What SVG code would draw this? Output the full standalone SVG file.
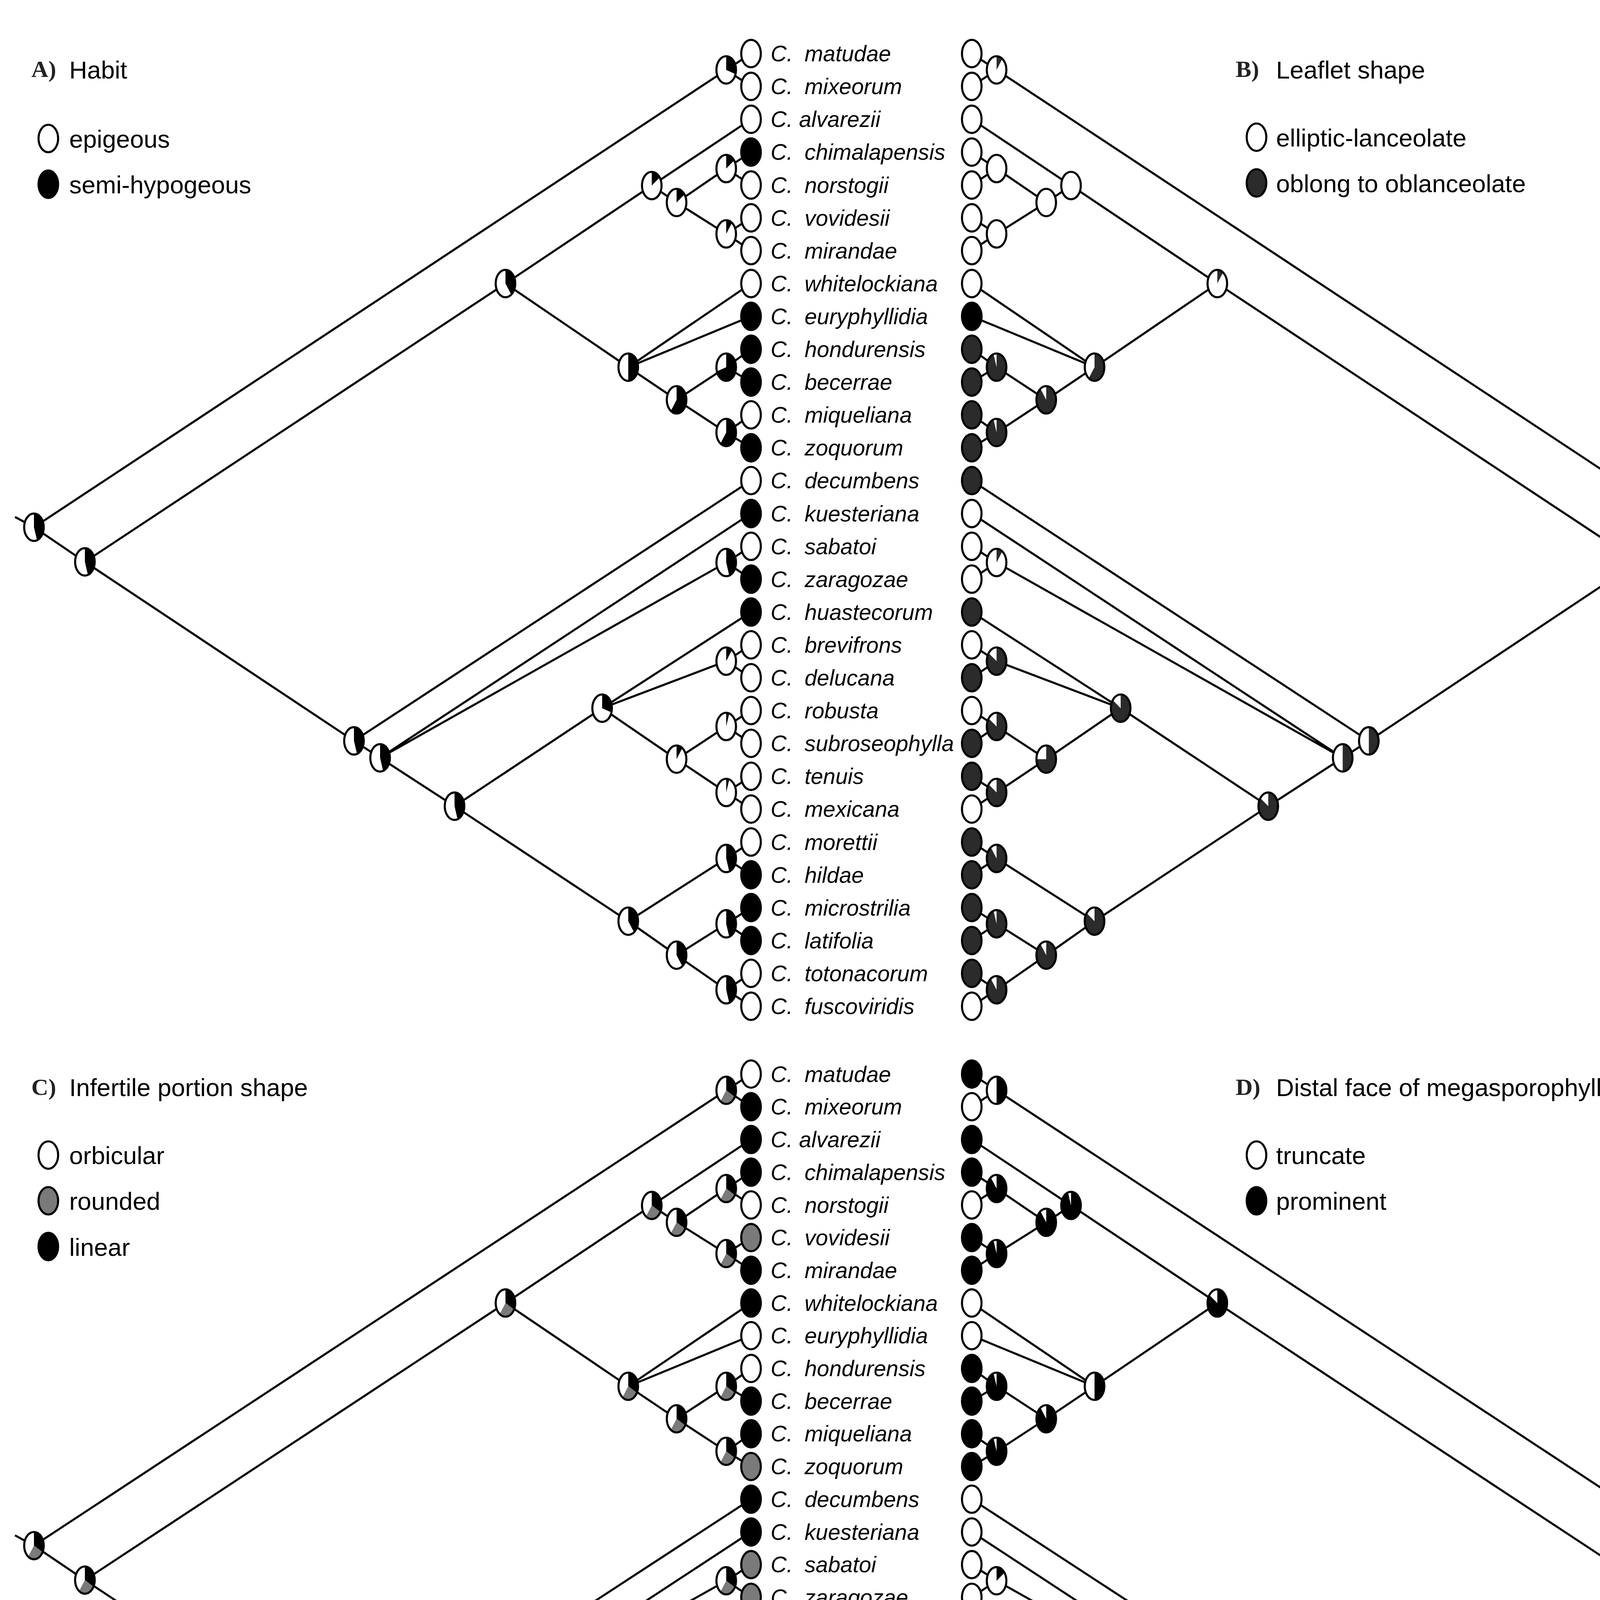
<svg xmlns="http://www.w3.org/2000/svg" xmlns:xlink="http://www.w3.org/1999/xlink" width="4427" height="5245" viewBox="0 0 4427 5245">
<style>
.w{fill:#fff}.k{fill:#000}.dk{fill:#2b2b2b}.g{fill:#7a7a7a}
.o{fill:none;stroke:#000;stroke-width:1.6}
.edge{fill:none;stroke:#000;stroke-width:1.6}
.sp{font-family:"Liberation Sans",Arial,sans-serif;font-style:italic;font-size:17px;fill:#000}
.lg{font-family:"Liberation Sans",Arial,sans-serif;font-size:19px;fill:#000}
.pl{font-family:"Liberation Serif","Times New Roman",serif;font-weight:bold;font-size:18px;fill:#222}
</style>
<defs>
<ellipse id="el" rx="7.5" ry="10.5"/>
<g id="tw"><ellipse class="w" rx="7.5" ry="10.5"/><ellipse class="o" rx="7.5" ry="10.5"/></g>
<g id="tb"><ellipse class="k" rx="7.5" ry="10.5"/><ellipse class="o" rx="7.5" ry="10.5"/></g>
<g id="td"><ellipse class="dk" rx="7.5" ry="10.5"/><ellipse class="o" rx="7.5" ry="10.5"/></g>
<g id="tg"><ellipse class="g" rx="7.5" ry="10.5"/><ellipse class="o" rx="7.5" ry="10.5"/></g>
<g id="p05"><ellipse class="w" rx="7.5" ry="10.5"/><path class="k" d="M0,0V-10.5A7.5,10.5 0 0 1 2.32,-9.99Z"/><ellipse class="o" rx="7.5" ry="10.5"/></g>
<g id="p1"><ellipse class="w" rx="7.5" ry="10.5"/><path class="k" d="M0,0V-10.5A7.5,10.5 0 0 1 4.41,-8.49Z"/><ellipse class="o" rx="7.5" ry="10.5"/></g>
<g id="p15"><ellipse class="w" rx="7.5" ry="10.5"/><path class="k" d="M0,0V-10.5A7.5,10.5 0 0 1 6.07,-6.17Z"/><ellipse class="o" rx="7.5" ry="10.5"/></g>
<g id="p3"><ellipse class="w" rx="7.5" ry="10.5"/><path class="k" d="M0,0V-10.5A7.5,10.5 0 0 1 7.13,3.24Z"/><ellipse class="o" rx="7.5" ry="10.5"/></g>
<g id="p4"><ellipse class="w" rx="7.5" ry="10.5"/><path class="k" d="M0,0V-10.5A7.5,10.5 0 0 1 4.41,8.49Z"/><ellipse class="o" rx="7.5" ry="10.5"/></g>
<g id="p45"><ellipse class="w" rx="7.5" ry="10.5"/><path class="k" d="M0,0V-10.5A7.5,10.5 0 0 1 2.32,9.99Z"/><ellipse class="o" rx="7.5" ry="10.5"/></g>
<g id="p5"><ellipse class="w" rx="7.5" ry="10.5"/><path class="k" d="M0,0V-10.5A7.5,10.5 0 0 1 0,10.5Z"/><ellipse class="o" rx="7.5" ry="10.5"/></g>
<g id="p6"><ellipse class="w" rx="7.5" ry="10.5"/><path class="k" d="M0,0V-10.5A7.5,10.5 0 1 1 -4.41,8.49Z"/><ellipse class="o" rx="7.5" ry="10.5"/></g>
<g id="p7"><ellipse class="w" rx="7.5" ry="10.5"/><path class="k" d="M0,0V-10.5A7.5,10.5 0 1 1 -7.13,3.24Z"/><ellipse class="o" rx="7.5" ry="10.5"/></g>
<g id="p85"><ellipse class="w" rx="7.5" ry="10.5"/><path class="k" d="M0,0V-10.5A7.5,10.5 0 1 1 -6.07,-6.17Z"/><ellipse class="o" rx="7.5" ry="10.5"/></g>
<g id="p9"><ellipse class="w" rx="7.5" ry="10.5"/><path class="k" d="M0,0V-10.5A7.5,10.5 0 1 1 -4.41,-8.49Z"/><ellipse class="o" rx="7.5" ry="10.5"/></g>
<g id="p95"><ellipse class="w" rx="7.5" ry="10.5"/><path class="k" d="M0,0V-10.5A7.5,10.5 0 1 1 -2.32,-9.99Z"/><ellipse class="o" rx="7.5" ry="10.5"/></g>
<g id="d1"><ellipse class="w" rx="7.5" ry="10.5"/><path class="dk" d="M0,0V-10.5A7.5,10.5 0 0 1 4.41,-8.49Z"/><ellipse class="o" rx="7.5" ry="10.5"/></g>
<g id="d5"><ellipse class="w" rx="7.5" ry="10.5"/><path class="dk" d="M0,0V-10.5A7.5,10.5 0 0 1 0,10.5Z"/><ellipse class="o" rx="7.5" ry="10.5"/></g>
<g id="d6"><ellipse class="w" rx="7.5" ry="10.5"/><path class="dk" d="M0,0V-10.5A7.5,10.5 0 1 1 -4.41,8.49Z"/><ellipse class="o" rx="7.5" ry="10.5"/></g>
<g id="d75"><ellipse class="w" rx="7.5" ry="10.5"/><path class="dk" d="M0,0V-10.5A7.5,10.5 0 1 1 -7.5,0Z"/><ellipse class="o" rx="7.5" ry="10.5"/></g>
<g id="d85"><ellipse class="w" rx="7.5" ry="10.5"/><path class="dk" d="M0,0V-10.5A7.5,10.5 0 1 1 -6.07,-6.17Z"/><ellipse class="o" rx="7.5" ry="10.5"/></g>
<g id="d9"><ellipse class="w" rx="7.5" ry="10.5"/><path class="dk" d="M0,0V-10.5A7.5,10.5 0 1 1 -4.41,-8.49Z"/><ellipse class="o" rx="7.5" ry="10.5"/></g>
<g id="d95"><ellipse class="w" rx="7.5" ry="10.5"/><path class="dk" d="M0,0V-10.5A7.5,10.5 0 1 1 -2.32,-9.99Z"/><ellipse class="o" rx="7.5" ry="10.5"/></g>
<g id="c"><ellipse class="w" rx="7.5" ry="10.5"/><path class="k" d="M0,0V-10.5A7.5,10.5 0 0 1 6.57,5.06Z"/><path class="g" d="M0,0L6.57,5.06A7.5,10.5 0 0 1 -4.41,8.49Z"/><ellipse class="o" rx="7.5" ry="10.5"/></g>
<g id="c2"><ellipse class="w" rx="7.5" ry="10.5"/><path class="k" d="M0,0V-10.5A7.5,10.5 0 0 1 5.13,-7.65Z"/><path class="g" d="M0,0L5.13,-7.65A7.5,10.5 0 1 1 -4.41,-8.49Z"/><ellipse class="o" rx="7.5" ry="10.5"/></g>
<g id="c3"><ellipse class="w" rx="7.5" ry="10.5"/><path class="k" d="M0,0V-10.5A7.5,10.5 0 0 1 7.5,0Z"/><path class="g" d="M0,0L7.5,0A7.5,10.5 0 0 1 0,10.5Z"/><ellipse class="o" rx="7.5" ry="10.5"/></g>
</defs>
<rect width="4427" height="5245" fill="#fff"/>
<g transform="scale(3.3437,3.345)">
<g id="connectors">
<path id="edges" class="edge" d="M11.5,395.6L26,403.5M26,403.5L556,53.5M26,403.5L65,430M65,430L387,217M65,430L271,567M387,217L499,142M387,217L481,281M556,53.5L575,41M556,53.5L575,66.1M499,142L575,91.3M499,142L518,155M518,155L556,129M518,155L556,179M556,129L575,116.4M556,129L575,141.6M556,179L575,166.7M556,179L575,191.8M481,281L575,217M481,281L575,242.1M481,281L518,306M518,306L556,281M518,306L556,331M556,281L575,267.3M556,281L575,292.4M556,331L575,317.5M556,331L575,342.7M271,567L575,367.8M271,567L291,580M291,580L575,393M291,580L556,430.5M291,580L348,617M556,430.5L575,418.1M556,430.5L575,443.2M348,617L461,542M348,617L481,705M461,542L575,468.4M461,542L556,506M461,542L518,581M556,506L575,493.5M556,506L575,518.7M518,581L556,556M518,581L556,606.5M556,556L575,543.8M556,556L575,568.9M556,606.5L575,594.1M556,606.5L575,619.2M481,705L556,657M481,705L518,731M556,657L575,644.4M556,657L575,669.5M518,731L556,707M518,731L556,757.5M556,707L575,694.6M556,707L575,719.8M556,757.5L575,744.9M556,757.5L575,770.1"/>
<use href="#edges" transform="matrix(-1,0,0,1,1319,0)"/>
<use href="#edges" transform="translate(0,781.18) scale(1,0.9956)"/>
<use href="#edges" transform="translate(0,781.18) scale(1,0.9956) matrix(-1,0,0,1,1319,0)"/>
</g>

<g id="labels-top" class="sp">
<text x="590" y="47">C.<tspan x="616">matudae</tspan></text>
<text x="590" y="72.1">C.<tspan x="616">mixeorum</tspan></text>
<text x="590" y="97.3">C. alvarezii</text>
<text x="590" y="122.4">C.<tspan x="616">chimalapensis</tspan></text>
<text x="590" y="147.6">C.<tspan x="616">norstogii</tspan></text>
<text x="590" y="172.7">C.<tspan x="616">vovidesii</tspan></text>
<text x="590" y="197.8">C.<tspan x="616">mirandae</tspan></text>
<text x="590" y="223">C.<tspan x="616">whitelockiana</tspan></text>
<text x="590" y="248.1">C.<tspan x="616">euryphyllidia</tspan></text>
<text x="590" y="273.3">C.<tspan x="616">hondurensis</tspan></text>
<text x="590" y="298.4">C.<tspan x="616">becerrae</tspan></text>
<text x="590" y="323.5">C.<tspan x="616">miqueliana</tspan></text>
<text x="590" y="348.7">C.<tspan x="616">zoquorum</tspan></text>
<text x="590" y="373.8">C.<tspan x="616">decumbens</tspan></text>
<text x="590" y="399">C.<tspan x="616">kuesteriana</tspan></text>
<text x="590" y="424.1">C.<tspan x="616">sabatoi</tspan></text>
<text x="590" y="449.2">C.<tspan x="616">zaragozae</tspan></text>
<text x="590" y="474.4">C.<tspan x="616">huastecorum</tspan></text>
<text x="590" y="499.5">C.<tspan x="616">brevifrons</tspan></text>
<text x="590" y="524.7">C.<tspan x="616">delucana</tspan></text>
<text x="590" y="549.8">C.<tspan x="616">robusta</tspan></text>
<text x="590" y="574.9">C.<tspan x="616">subroseophylla</tspan></text>
<text x="590" y="600.1">C.<tspan x="616">tenuis</tspan></text>
<text x="590" y="625.2">C.<tspan x="616">mexicana</tspan></text>
<text x="590" y="650.4">C.<tspan x="616">morettii</tspan></text>
<text x="590" y="675.5">C.<tspan x="616">hildae</tspan></text>
<text x="590" y="700.6">C.<tspan x="616">microstrilia</tspan></text>
<text x="590" y="725.8">C.<tspan x="616">latifolia</tspan></text>
<text x="590" y="750.9">C.<tspan x="616">totonacorum</tspan></text>
<text x="590" y="776.1">C.<tspan x="616">fuscoviridis</tspan></text>
</g>
<use id="labels-bottom" href="#labels-top" transform="translate(0,781.18) scale(1,0.9956)"/>

<g id="legends">
<text class="pl" x="24" y="59">A)</text><text class="lg" x="53" y="60">Habit</text>
<use href="#tw" x="37" y="106"/><text class="lg" x="53" y="113">epigeous</text>
<use href="#tb" x="37" y="141"/><text class="lg" x="53" y="148">semi-hypogeous</text>
<text class="pl" x="946" y="59">B)</text><text class="lg" x="977" y="60">Leaflet shape</text>
<use href="#tw" x="962" y="105"/><text class="lg" x="977" y="112">elliptic-lanceolate</text>
<use href="#td" x="962" y="140"/><text class="lg" x="977" y="147">oblong to oblanceolate</text>
<text class="pl" x="24" y="838">C)</text><text class="lg" x="53" y="839">Infertile portion shape</text>
<use href="#tw" x="37" y="884"/><text class="lg" x="53" y="891">orbicular</text>
<use href="#tg" x="37" y="919"/><text class="lg" x="53" y="926">rounded</text>
<use href="#tb" x="37" y="954"/><text class="lg" x="53" y="961">linear</text>
<text class="pl" x="946" y="838">D)</text><text class="lg" x="977" y="839">Distal face of megasporophylls shape</text>
<use href="#tw" x="962" y="884"/><text class="lg" x="977" y="891">truncate</text>
<use href="#tb" x="962" y="919"/><text class="lg" x="977" y="926">prominent</text>
</g>

<g id="panelA">
<use href="#tw" x="575" y="41"/><use href="#tw" x="575" y="66.1"/><use href="#tw" x="575" y="91.3"/><use href="#tb" x="575" y="116.4"/><use href="#tw" x="575" y="141.6"/><use href="#tw" x="575" y="166.7"/><use href="#tw" x="575" y="191.8"/><use href="#tw" x="575" y="217"/><use href="#tb" x="575" y="242.1"/><use href="#tb" x="575" y="267.3"/><use href="#tb" x="575" y="292.4"/><use href="#tw" x="575" y="317.5"/><use href="#tb" x="575" y="342.7"/><use href="#tw" x="575" y="367.8"/><use href="#tb" x="575" y="393"/><use href="#tw" x="575" y="418.1"/><use href="#tb" x="575" y="443.2"/><use href="#tb" x="575" y="468.4"/><use href="#tw" x="575" y="493.5"/><use href="#tw" x="575" y="518.7"/><use href="#tw" x="575" y="543.8"/><use href="#tw" x="575" y="568.9"/><use href="#tw" x="575" y="594.1"/><use href="#tw" x="575" y="619.2"/><use href="#tw" x="575" y="644.4"/><use href="#tb" x="575" y="669.5"/><use href="#tb" x="575" y="694.6"/><use href="#tb" x="575" y="719.8"/><use href="#tw" x="575" y="744.9"/><use href="#tw" x="575" y="770.1"/>
<use id="A-R" href="#p45" x="26" y="403.5"/><use id="A-Q" href="#p45" x="65" y="430"/><use id="A-N01" href="#p3" x="556" y="53.5"/><use id="A-U" href="#p4" x="387" y="217"/><use id="A-N2" href="#p15" x="499" y="142"/><use id="A-N3456" href="#p15" x="518" y="155"/><use id="A-N34" href="#p15" x="556" y="129"/><use id="A-N56" href="#p1" x="556" y="179"/><use id="A-P" href="#p5" x="481" y="281"/><use id="A-N912" href="#p6" x="518" y="306"/><use id="A-N910" href="#p7" x="556" y="281"/><use id="A-N1112" href="#p6" x="556" y="331"/><use id="A-L1" href="#p45" x="271" y="567"/><use id="A-L2" href="#p45" x="291" y="580"/><use id="A-N1516" href="#p45" x="556" y="430.5"/><use id="A-L3" href="#p45" x="348" y="617"/><use id="A-M" href="#p3" x="461" y="542"/><use id="A-N1819" href="#p1" x="556" y="506"/><use id="A-N2023" href="#p1" x="518" y="581"/><use id="A-N2021" href="#p05" x="556" y="556"/><use id="A-N2223" href="#p05" x="556" y="606.5"/><use id="A-K" href="#p4" x="481" y="705"/><use id="A-N2425" href="#p45" x="556" y="657"/><use id="A-N2629" href="#p4" x="518" y="731"/><use id="A-N2627" href="#p45" x="556" y="707"/><use id="A-N2829" href="#p45" x="556" y="757.5"/>
</g>

<g id="panelB">
<use href="#tw" x="744" y="41"/><use href="#tw" x="744" y="66.1"/><use href="#tw" x="744" y="91.3"/><use href="#tw" x="744" y="116.4"/><use href="#tw" x="744" y="141.6"/><use href="#tw" x="744" y="166.7"/><use href="#tw" x="744" y="191.8"/><use href="#tw" x="744" y="217"/><use href="#tb" x="744" y="242.1"/><use href="#td" x="744" y="267.3"/><use href="#td" x="744" y="292.4"/><use href="#td" x="744" y="317.5"/><use href="#td" x="744" y="342.7"/><use href="#td" x="744" y="367.8"/><use href="#tw" x="744" y="393"/><use href="#tw" x="744" y="418.1"/><use href="#tw" x="744" y="443.2"/><use href="#td" x="744" y="468.4"/><use href="#tw" x="744" y="493.5"/><use href="#td" x="744" y="518.7"/><use href="#tw" x="744" y="543.8"/><use href="#td" x="744" y="568.9"/><use href="#td" x="744" y="594.1"/><use href="#tw" x="744" y="619.2"/><use href="#td" x="744" y="644.4"/><use href="#td" x="744" y="669.5"/><use href="#td" x="744" y="694.6"/><use href="#td" x="744" y="719.8"/><use href="#td" x="744" y="744.9"/><use href="#tw" x="744" y="770.1"/>
<use id="B-R" href="#d5" x="1293" y="403.5"/><use id="B-Q" href="#d5" x="1254" y="430"/><use id="B-N01" href="#d1" x="763" y="53.5"/><use id="B-U" href="#d1" x="932" y="217"/><use id="B-N2" href="#tw" x="820" y="142"/><use id="B-N3456" href="#tw" x="801" y="155"/><use id="B-N34" href="#tw" x="763" y="129"/><use id="B-N56" href="#tw" x="763" y="179"/><use id="B-P" href="#d6" x="838" y="281"/><use id="B-N912" href="#d9" x="801" y="306"/><use id="B-N910" href="#d95" x="763" y="281"/><use id="B-N1112" href="#d95" x="763" y="331"/><use id="B-L1" href="#d5" x="1048" y="567"/><use id="B-L2" href="#d5" x="1028" y="580"/><use id="B-N1516" href="#d1" x="763" y="430.5"/><use id="B-L3" href="#d85" x="971" y="617"/><use id="B-M" href="#d85" x="858" y="542"/><use id="B-N1819" href="#d85" x="763" y="506"/><use id="B-N2023" href="#d75" x="801" y="581"/><use id="B-N2021" href="#d85" x="763" y="556"/><use id="B-N2223" href="#d85" x="763" y="606.5"/><use id="B-K" href="#d85" x="838" y="705"/><use id="B-N2425" href="#d9" x="763" y="657"/><use id="B-N2629" href="#d9" x="801" y="731"/><use id="B-N2627" href="#d95" x="763" y="707"/><use id="B-N2829" href="#d9" x="763" y="757.5"/>
</g>

<g id="panelC" transform="translate(0,781.18) scale(1,0.9956)">
<use href="#tw" x="575" y="41"/><use href="#tb" x="575" y="66.1"/><use href="#tb" x="575" y="91.3"/><use href="#tb" x="575" y="116.4"/><use href="#tw" x="575" y="141.6"/><use href="#tg" x="575" y="166.7"/><use href="#tb" x="575" y="191.8"/><use href="#tb" x="575" y="217"/><use href="#tw" x="575" y="242.1"/><use href="#tw" x="575" y="267.3"/><use href="#tb" x="575" y="292.4"/><use href="#tb" x="575" y="317.5"/><use href="#tg" x="575" y="342.7"/><use href="#tb" x="575" y="367.8"/><use href="#tb" x="575" y="393"/><use href="#tg" x="575" y="418.1"/><use href="#tg" x="575" y="443.2"/><use href="#tw" x="575" y="468.4"/><use href="#tg" x="575" y="493.5"/><use href="#tw" x="575" y="518.7"/><use href="#tg" x="575" y="543.8"/><use href="#tg" x="575" y="568.9"/><use href="#tw" x="575" y="594.1"/><use href="#tw" x="575" y="619.2"/><use href="#tw" x="575" y="644.4"/><use href="#tg" x="575" y="669.5"/><use href="#tb" x="575" y="694.6"/><use href="#tg" x="575" y="719.8"/><use href="#tg" x="575" y="744.9"/><use href="#tw" x="575" y="770.1"/>
<use id="C-R" href="#c" x="26" y="403.5"/><use id="C-Q" href="#c" x="65" y="430"/><use id="C-N01" href="#c" x="556" y="53.5"/><use id="C-U" href="#c" x="387" y="217"/><use id="C-N2" href="#c" x="499" y="142"/><use id="C-N3456" href="#c" x="518" y="155"/><use id="C-N34" href="#c" x="556" y="129"/><use id="C-N56" href="#c" x="556" y="179"/><use id="C-P" href="#c" x="481" y="281"/><use id="C-N912" href="#c" x="518" y="306"/><use id="C-N910" href="#c" x="556" y="281"/><use id="C-N1112" href="#c" x="556" y="331"/><use id="C-L1" href="#c" x="271" y="567"/><use id="C-L2" href="#c" x="291" y="580"/><use id="C-N1516" href="#c" x="556" y="430.5"/><use id="C-L3" href="#c" x="348" y="617"/><use id="C-M" href="#c" x="461" y="542"/><use id="C-N1819" href="#c" x="556" y="506"/><use id="C-N2023" href="#c" x="518" y="581"/><use id="C-N2021" href="#c2" x="556" y="556"/><use id="C-N2223" href="#c3" x="556" y="606.5"/><use id="C-K" href="#c" x="481" y="705"/><use id="C-N2425" href="#c" x="556" y="657"/><use id="C-N2629" href="#c" x="518" y="731"/><use id="C-N2627" href="#c" x="556" y="707"/><use id="C-N2829" href="#c" x="556" y="757.5"/>
</g>

<g id="panelD" transform="translate(0,781.18) scale(1,0.9956)">
<use href="#tb" x="744" y="41"/><use href="#tw" x="744" y="66.1"/><use href="#tb" x="744" y="91.3"/><use href="#tb" x="744" y="116.4"/><use href="#tw" x="744" y="141.6"/><use href="#tb" x="744" y="166.7"/><use href="#tb" x="744" y="191.8"/><use href="#tw" x="744" y="217"/><use href="#tw" x="744" y="242.1"/><use href="#tb" x="744" y="267.3"/><use href="#tb" x="744" y="292.4"/><use href="#tb" x="744" y="317.5"/><use href="#tb" x="744" y="342.7"/><use href="#tw" x="744" y="367.8"/><use href="#tw" x="744" y="393"/><use href="#tw" x="744" y="418.1"/><use href="#tw" x="744" y="443.2"/><use href="#tw" x="744" y="468.4"/><use href="#tb" x="744" y="493.5"/><use href="#tw" x="744" y="518.7"/><use href="#tb" x="744" y="543.8"/><use href="#tb" x="744" y="568.9"/><use href="#tb" x="744" y="594.1"/><use href="#tb" x="744" y="619.2"/><use href="#tw" x="744" y="644.4"/><use href="#tb" x="744" y="669.5"/><use href="#tb" x="744" y="694.6"/><use href="#tb" x="744" y="719.8"/><use href="#tb" x="744" y="744.9"/><use href="#tw" x="744" y="770.1"/>
<use id="D-R" href="#p5" x="1293" y="403.5"/><use id="D-Q" href="#p5" x="1254" y="430"/><use id="D-N01" href="#p5" x="763" y="53.5"/><use id="D-U" href="#p85" x="932" y="217"/><use id="D-N2" href="#p95" x="820" y="142"/><use id="D-N3456" href="#p9" x="801" y="155"/><use id="D-N34" href="#p9" x="763" y="129"/><use id="D-N56" href="#p95" x="763" y="179"/><use id="D-P" href="#p5" x="838" y="281"/><use id="D-N912" href="#p9" x="801" y="306"/><use id="D-N910" href="#p95" x="763" y="281"/><use id="D-N1112" href="#p95" x="763" y="331"/><use id="D-L1" href="#p5" x="1048" y="567"/><use id="D-L2" href="#p5" x="1028" y="580"/><use id="D-N1516" href="#p15" x="763" y="430.5"/><use id="D-L3" href="#p5" x="971" y="617"/><use id="D-M" href="#p5" x="858" y="542"/><use id="D-N1819" href="#p5" x="763" y="506"/><use id="D-N2023" href="#p9" x="801" y="581"/><use id="D-N2021" href="#p9" x="763" y="556"/><use id="D-N2223" href="#p9" x="763" y="606.5"/><use id="D-K" href="#p5" x="838" y="705"/><use id="D-N2425" href="#p5" x="763" y="657"/><use id="D-N2629" href="#p5" x="801" y="731"/><use id="D-N2627" href="#p9" x="763" y="707"/><use id="D-N2829" href="#p6" x="763" y="757.5"/>
</g>
</g>
</svg>
